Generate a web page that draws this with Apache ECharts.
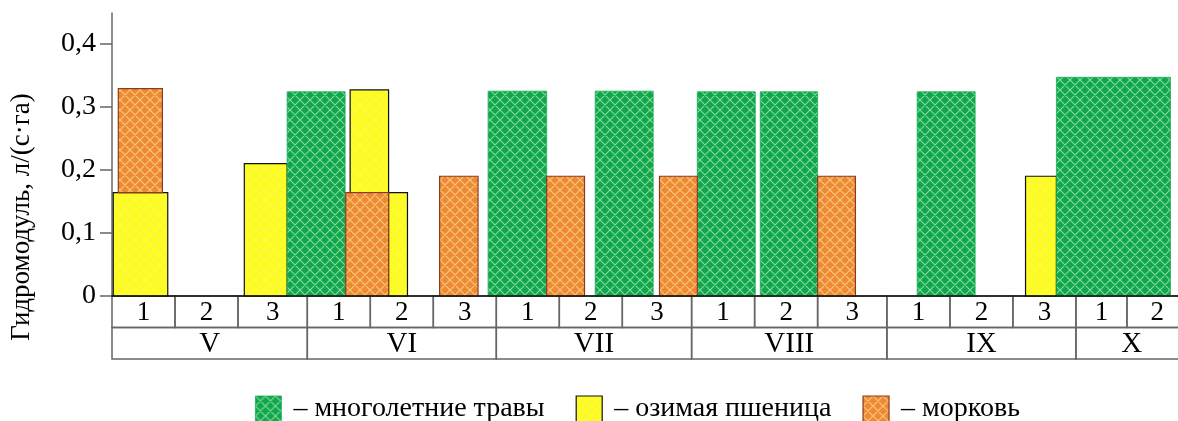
<!DOCTYPE html>
<html>
<head>
<meta charset="utf-8">
<script src="https://cdn.jsdelivr.net/npm/echarts@6/dist/echarts.min.js"></script>
<style>html,body{margin:0;padding:0;background:#fff}#c{width:1178px;height:421px}</style>
</head>
<body>
<div id="c"></div>
<script>
// ---- data (x in days from 1 May) ----
const decadeEdges = [0, 10, 20, 31, 41, 51, 61, 71, 81, 92, 102, 112, 123, 133, 143, 153, 161.1, 170.7];
const decadeLabels = ['1','2','3','1','2','3','1','2','3','1','2','3','1','2','3','1','2'];
const monthEdges = [0, 31, 61, 92, 123, 153, 170.7];
const monthLabels = ['V','VI','VII','VIII','IX','X'];
const yTicks = [0, 0.1, 0.2, 0.3, 0.4];
// bars: [start day, end day, low, high]
const grassBars = [
  [27.8, 37.0, 0, 0.324],
  [59.7, 69.0, 0, 0.325],
  [76.7, 85.9, 0, 0.325],
  [92.9, 102.1, 0, 0.324],
  [102.9, 112.0, 0, 0.324],
  [127.8, 137.0, 0, 0.324],
  [149.9, 168.0, 0, 0.347]
];
const wheatBars = [
  [0.2, 8.85, 0, 0.164],
  [21.0, 27.8, 0, 0.21],
  [37.8, 43.9, 0.164, 0.327],
  [43.9, 46.9, 0, 0.164],
  [145.0, 149.9, 0, 0.19]
];
const carrotBars = [
  [1.0, 8.0, 0.164, 0.329],
  [37.1, 43.9, 0, 0.164],
  [52.0, 58.1, 0, 0.19],
  [69.0, 75.0, 0, 0.19],
  [86.9, 92.9, 0, 0.19],
  [112.0, 118.0, 0, 0.19]
];
const names = ['многолетние травы', 'озимая пшеница', 'морковь'];

// ---- styles ----
const FONT = "'Liberation Serif', 'DejaVu Serif', serif";
const X_MAX = 169.2;
function hatch(base, line, alpha, size, lw) {
  const c = document.createElement('canvas');
  c.width = c.height = size;
  const g = c.getContext('2d');
  g.fillStyle = base; g.fillRect(0, 0, size, size);
  g.strokeStyle = line; g.globalAlpha = alpha; g.lineWidth = lw;
  g.beginPath();
  for (const o of [-size, 0, size]) {
    g.moveTo(o, 0); g.lineTo(o + size, size);
    g.moveTo(o + size, 0); g.lineTo(o, size);
  }
  g.stroke();
  return c;
}
const greenFill = {image: hatch('#10a64b', '#b4ecc2', 0.7, 10, 1.2), repeat: 'repeat'};
const orangeFill = {image: hatch('#ee8a30', '#fcd9a2', 0.75, 10, 1.2), repeat: 'repeat'};
const yellowFill = {image: hatch('#ffff1c', '#f2ec6a', 0.45, 10, 1.6), repeat: 'repeat'};

const styles = [
  {fill: greenFill, stroke: '#18b050', lineWidth: 0.8},
  {fill: yellowFill, stroke: '#111', lineWidth: 1.2},
  {fill: orangeFill, stroke: '#8e3a1c', lineWidth: 1.2}
];

function barRenderer(st) {
  return function (params, api) {
    const a = api.coord([api.value(0), api.value(2)]);
    const b = api.coord([api.value(1), api.value(3)]);
    return {type: 'rect', shape: {x: a[0], y: b[1], width: b[0] - a[0], height: a[1] - b[1]}, style: st};
  };
}

// table cells
const cells = [];
for (let i = 0; i < decadeLabels.length; i++) cells.push([decadeEdges[i], decadeEdges[i + 1], 0, decadeLabels[i]]);
for (let i = 0; i < monthLabels.length; i++) cells.push([monthEdges[i], monthEdges[i + 1], 1, monthLabels[i]]);

const chart = echarts.init(document.getElementById('c'));
chart.setOption({
  animation: false,
  grid: [
    {left: 112, right: 0, top: 13, height: 283},
    {left: 112, right: 0, top: 296, height: 63}
  ],
  xAxis: [
    {type: 'value', gridIndex: 0, min: 0, max: X_MAX, z: 5,
     axisLine: {show: true, lineStyle: {color: '#111', width: 1.5}},
     axisTick: {show: false}, axisLabel: {show: false}, splitLine: {show: false}},
    {type: 'value', gridIndex: 1, min: 0, max: X_MAX, show: false}
  ],
  yAxis: [
    {type: 'value', gridIndex: 0, min: 0, max: 0.449,
     axisLine: {show: true, lineStyle: {color: '#666', width: 1.5}},
     axisTick: {show: true, length: 12, customValues: yTicks, lineStyle: {color: '#666', width: 1.5}},
     axisLabel: {customValues: yTicks, margin: 16, color: '#000', fontFamily: FONT, fontSize: 28,
                 formatter: v => String(v).replace('.', ',')},
     splitLine: {show: false}},
    {type: 'value', gridIndex: 1, min: 0, max: 2, inverse: true, show: false}
  ],
  legend: {
    left: 255, top: 395, itemWidth: 26, itemHeight: 26, itemGap: 31, icon: 'rect', padding: 0,
    formatter: n => ' – ' + n,
    textStyle: {fontFamily: FONT, fontSize: 28, lineHeight: 26, color: '#000'},
    data: [
      {name: names[0], itemStyle: {color: greenFill, borderColor: '#18b050', borderWidth: 0.8}},
      {name: names[1], itemStyle: {color: yellowFill, borderColor: '#111', borderWidth: 1.2}},
      {name: names[2], itemStyle: {color: orangeFill, borderColor: '#8e3a1c', borderWidth: 1.2}}
    ]
  },
  graphic: [{
    type: 'text', x: 22, y: 217, rotation: Math.PI / 2,
    style: {text: 'Гидромодуль, л/(с·га)', font: '27px ' + FONT, fill: '#000', align: 'center', verticalAlign: 'middle'}
  }],
  series: [
    {type: 'custom', name: names[1], xAxisIndex: 0, yAxisIndex: 0, z: 2, data: wheatBars,
     itemStyle: {color: yellowFill}, encode: {x: [0, 1], y: [2, 3]}, renderItem: barRenderer(styles[1])},
    {type: 'custom', name: names[0], xAxisIndex: 0, yAxisIndex: 0, z: 3, data: grassBars,
     itemStyle: {color: greenFill}, encode: {x: [0, 1], y: [2, 3]}, renderItem: barRenderer(styles[0])},
    {type: 'custom', name: names[2], xAxisIndex: 0, yAxisIndex: 0, z: 4, data: carrotBars,
     itemStyle: {color: orangeFill}, encode: {x: [0, 1], y: [2, 3]}, renderItem: barRenderer(styles[2])},
    {type: 'custom', name: 'table', xAxisIndex: 1, yAxisIndex: 1, z: 1, silent: true,
     data: cells.map(c => [c[0], c[1], c[2]]),
     encode: {x: [0, 1], y: 2},
     renderItem: function (params, api) {
       const c = cells[params.dataIndex];
       const a = api.coord([c[0], c[2]]);
       const b = api.coord([c[1], c[2] + 1]);
       const fs = c[2] === 0 ? 27 : 29;
       return {type: 'group', children: [
         {type: 'rect', shape: {x: a[0], y: a[1], width: b[0] - a[0], height: b[1] - a[1]},
          style: {fill: 'none', stroke: '#666', lineWidth: 1.5}},
         {type: 'text', style: {text: c[3], x: (a[0] + b[0]) / 2, y: (a[1] + b[1]) / 2 + 1,
          align: 'center', verticalAlign: 'middle', font: fs + 'px ' + FONT, fill: '#000'}}
       ]};
     }}
  ]
});
</script>
</body>
</html>
